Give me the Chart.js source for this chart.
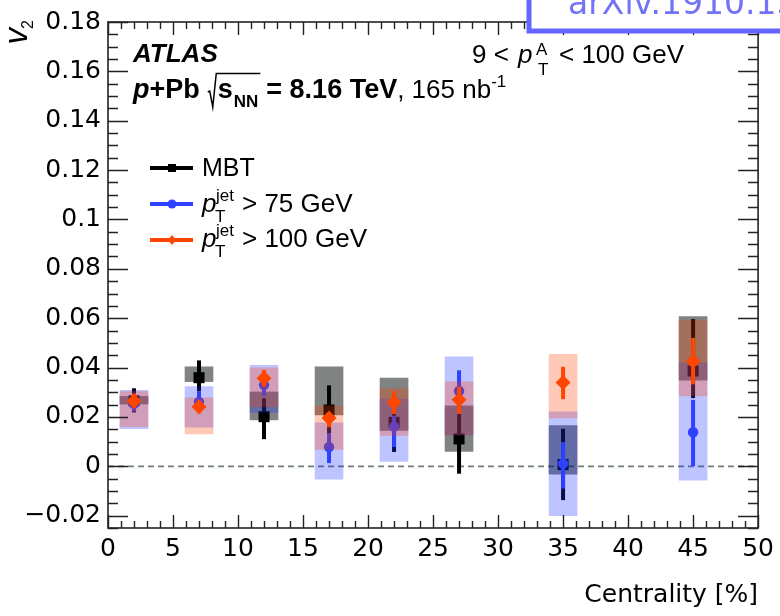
<!DOCTYPE html>
<html><head><meta charset="utf-8">
<script src="https://cdn.jsdelivr.net/npm/chart.js@4.4.0/dist/chart.umd.min.js"></script>
<style>html,body{margin:0;padding:0;background:#fff;}#wrap{width:780px;height:616px;}</style>
</head><body><div id="wrap"><canvas id="c" width="780" height="616"></canvas></div>
<script>
// ---- data ----
const centrality = [2, 7, 12, 17, 22, 27, 35, 45];

const mbtV2      = [0.0265, 0.0359, 0.0201, 0.0228, 0.0178, 0.0111, 0.0007, 0.0386];
const mbtStatLo  = [0.0218, 0.0303, 0.0110, 0.0133, 0.0058, -0.0030, -0.0137, 0.0276];
const mbtStatHi  = [0.0316, 0.0429, 0.0276, 0.0328, 0.0295, 0.0250, 0.0152, 0.0596];
const mbtSystLo  = [0.0252, 0.0343, 0.0188, 0.0208, 0.0145, 0.0060, -0.0032, 0.0349];
const mbtSystHi  = [0.0283, 0.0403, 0.0301, 0.0403, 0.0357, 0.0245, 0.0165, 0.0607];

const jet75V2     = [0.0253, 0.0261, 0.0330, 0.0078, 0.0161, 0.0305, 0.0011, 0.0138];
const jet75StatLo = [0.0222, 0.0220, 0.0285, 0.0013, 0.0078, 0.0225, -0.0090, 0.0001];
const jet75StatHi = [0.0284, 0.0303, 0.0375, 0.0135, 0.0205, 0.0389, 0.0098, 0.0269];
const jet75SystLo = [0.0152, 0.0158, 0.0218, -0.0052, 0.0020, 0.0127, -0.0200, -0.0056];
const jet75SystHi = [0.0308, 0.0323, 0.0409, 0.0176, 0.0272, 0.0443, 0.0221, 0.0419];

const jet100V2     = [0.0265, 0.0241, 0.0357, 0.0196, 0.0258, 0.0270, 0.0339, 0.0426];
const jet100StatLo = [0.0235, 0.0214, 0.0323, 0.0158, 0.0212, 0.0212, 0.0272, 0.0332];
const jet100StatHi = [0.0295, 0.0265, 0.0390, 0.0218, 0.0305, 0.0322, 0.0403, 0.0520];
const jet100SystLo = [0.0161, 0.0131, 0.0241, 0.0068, 0.0125, 0.0127, 0.0196, 0.0285];
const jet100SystHi = [0.0303, 0.0277, 0.0399, 0.0245, 0.0316, 0.0342, 0.0454, 0.0591];

const xTicks = [0, 5, 10, 15, 20, 25, 30, 35, 40, 45, 50];
const xTickLabels = ["0","5","10","15","20","25","30","35","40","45","50"];
const yTicks = [-0.02, 0, 0.02, 0.04, 0.06, 0.08, 0.1, 0.12, 0.14, 0.16, 0.18];
const yTickLabels = ["\u22120.02","0","0.02","0.04","0.06","0.08","0.1","0.12","0.14","0.16","0.18"];

// ---- styles ----
const BLACK = '#000000';
const BLUE = 'rgb(45,65,255)';
const RED = 'rgb(255,70,0)';
const LIB = '"Liberation Sans", Arial, sans-serif';
const DJV = '"DejaVu Sans", sans-serif';

function boxData(lo, hi) { return centrality.map((x, i) => ({x: x, y: [lo[i], hi[i]]})); }
function ptData(v) { return centrality.map((x, i) => ({x: x, y: v[i]})); }

const datasets = [
  {type:'bar', data: boxData(mbtSystLo, mbtSystHi), backgroundColor:'rgba(0,10,5,0.5)', borderWidth:0, barThickness:28, grouped:false, order:6},
  {type:'scatter', data: ptData(mbtV2), pointStyle:'rect', pointRadius:7.8, backgroundColor:BLACK, borderColor:BLACK, borderWidth:0, order:5,
    errLo: mbtStatLo, errHi: mbtStatHi, errColor: BLACK},
  {type:'bar', data: boxData(jet75SystLo, jet75SystHi), backgroundColor:'rgba(30,50,255,0.29)', borderWidth:0, barThickness:28, grouped:false, order:4},
  {type:'scatter', data: ptData(jet75V2), pointStyle:'circle', pointRadius:5.2, backgroundColor:BLUE, borderColor:BLUE, borderWidth:0, order:3,
    errLo: jet75StatLo, errHi: jet75StatHi, errColor: BLUE},
  {type:'bar', data: boxData(jet100SystLo, jet100SystHi), backgroundColor:'rgba(255,60,0,0.28)', borderWidth:0, barThickness:28, grouped:false, order:2},
  {type:'scatter', data: ptData(jet100V2), pointStyle:'rectRot', pointRadius:7.5, backgroundColor:RED, borderColor:RED, borderWidth:0, order:1,
    errLo: jet100StatLo, errHi: jet100StatHi, errColor: RED}
];

function txt(ctx, s, x, y, font, color, align) {
  ctx.font = font; ctx.fillStyle = color || '#000'; ctx.textAlign = align || 'left'; ctx.textBaseline = 'alphabetic';
  ctx.fillText(s, x, y);
  return x + ctx.measureText(s).width;
}

const decor = {
  id: 'decor',
  beforeDatasetsDraw(chart) {
    const {ctx, chartArea: a, scales: {y}} = chart;
    const py = y.getPixelForValue(0);
    ctx.save();
    ctx.strokeStyle = 'rgb(110,125,120)'; ctx.lineWidth = 1.8; ctx.setLineDash([6, 4]);
    ctx.beginPath(); ctx.moveTo(a.left, py); ctx.lineTo(a.right, py); ctx.stroke();
    ctx.restore();
  },
  beforeDatasetDraw(chart, args) {
    const ds = chart.data.datasets[args.index];
    if (!ds.errLo) return;
    const {ctx, chartArea: a, scales: {x, y}} = chart;
    ctx.save();
    ctx.beginPath(); ctx.rect(a.left, a.top, a.right - a.left, a.bottom - a.top); ctx.clip();
    ctx.strokeStyle = ds.errColor; ctx.lineWidth = 4; ctx.lineCap = 'butt';
    ds.errLo.forEach((lo, i) => {
      const px = x.getPixelForValue(centrality[i]);
      ctx.beginPath();
      ctx.moveTo(px, y.getPixelForValue(lo));
      ctx.lineTo(px, y.getPixelForValue(ds.errHi[i]));
      ctx.stroke();
    });
    ctx.restore();
  },
  afterDraw(chart) {
    const {ctx, chartArea: a, scales: {x, y}} = chart;
    ctx.save();
    // frame
    ctx.strokeStyle = '#222'; ctx.lineWidth = 1.6;
    ctx.strokeRect(a.left, a.top, a.right - a.left, a.bottom - a.top);
    // ticks
    ctx.lineWidth = 1.4;
    ctx.beginPath();
    for (let v = -25; v <= 180; v += 5) {
      const val = v / 1000;
      const py = Math.round(y.getPixelForValue(val)) + 0.5;
      const major = (v % 20 === 0);
      const L = major ? 20 : 10;
      ctx.moveTo(a.left, py); ctx.lineTo(a.left + L, py);
      ctx.moveTo(a.right, py); ctx.lineTo(a.right - L, py);
    }
    for (let v = 0; v <= 50; v += 1) {
      const px = Math.round(x.getPixelForValue(v)) + 0.5;
      const major = (v % 5 === 0);
      const L = major ? 13 : 7;
      ctx.moveTo(px, a.bottom); ctx.lineTo(px, a.bottom - L);
      ctx.moveTo(px, a.top); ctx.lineTo(px, a.top + L);
    }
    ctx.stroke();

    // axis titles
    txt(ctx, 'Centrality [%]', a.right, 602, '25px ' + DJV, '#000', 'right');
    ctx.save();
    ctx.translate(27, 20); ctx.rotate(-Math.PI / 2);
    ctx.fillStyle = '#000'; ctx.textAlign = 'left'; ctx.textBaseline = 'alphabetic';
    ctx.font = '16px ' + LIB;
    const w2 = ctx.measureText('2').width;
    ctx.fillText('2', -w2, 6);
    ctx.font = 'italic 33px ' + LIB;
    const wv = ctx.measureText('v').width;
    ctx.fillText('v', -wv - w2 + 1, 0);
    ctx.restore();

    // ATLAS label
    txt(ctx, 'ATLAS', 133, 62, 'bold italic 26px ' + LIB);
    let cx = 133;
    cx = txt(ctx, 'p', cx, 98, 'bold italic 27px ' + LIB);
    cx = txt(ctx, '+Pb', cx, 98, 'bold 27px ' + LIB);
    const sx = cx + 8;
    ctx.font = 'bold 27px ' + LIB;
    const ws = ctx.measureText('s').width;
    ctx.font = 'bold 17px ' + LIB;
    const wnn = ctx.measureText('NN').width;
    const sEnd = sx + 11 + ws + 1 + wnn + 1;
    // sqrt sign
    ctx.strokeStyle = '#000'; ctx.lineWidth = 1.5;
    ctx.beginPath();
    ctx.moveTo(sx, 92); ctx.lineTo(sx + 2, 91); ctx.lineTo(sx + 5, 107); ctx.lineTo(sx + 8.5, 73.5); ctx.lineTo(sEnd, 73.5);
    ctx.stroke();
    let tx = txt(ctx, 's', sx + 10, 98, 'bold 27px ' + LIB);
    txt(ctx, 'NN', tx + 1, 106.5, 'bold 17px ' + LIB);
    cx = txt(ctx, '= 8.16 TeV', sEnd + 6, 98, 'bold 27px ' + LIB);
    cx = txt(ctx, ', 165 nb', cx, 98, '26px ' + LIB);
    txt(ctx, '-1', cx, 87, '17px ' + LIB);

    // kinematic range
    txt(ctx, '9 < ', 472, 63, '26px ' + LIB);
    txt(ctx, 'p', 518, 63, 'italic 26px ' + LIB);
    txt(ctx, 'A', 536, 55, '17px ' + LIB);
    txt(ctx, 'T', 538, 75, '17px ' + LIB);
    txt(ctx, '< 100 GeV', 559, 63, '26px ' + LIB);

    // legend
    const leg = [
      {y: 168, color: BLACK, style: 'rect', base: 176, label: null},
      {y: 204, color: BLUE, style: 'circle', base: 212, label: '> 75 GeV'},
      {y: 240, color: RED, style: 'rectRot', base: 247, label: '> 100 GeV'}
    ];
    leg.forEach((e, i) => {
      ctx.strokeStyle = e.color; ctx.lineWidth = 4;
      ctx.beginPath(); ctx.moveTo(150, e.y); ctx.lineTo(193, e.y); ctx.stroke();
      ctx.fillStyle = e.color;
      ctx.beginPath();
      if (e.style === 'rect') ctx.rect(168, e.y - 4, 8, 8);
      else if (e.style === 'circle') ctx.arc(172, e.y, 4.5, 0, Math.PI * 2);
      else { ctx.moveTo(172, e.y - 5); ctx.lineTo(176, e.y); ctx.lineTo(172, e.y + 5); ctx.lineTo(168, e.y); ctx.closePath(); }
      ctx.fill();
      if (i === 0) {
        txt(ctx, 'MBT', 202, e.base, '25px ' + LIB);
      } else {
        txt(ctx, 'p', 202, e.base, 'italic 26px ' + LIB);
        txt(ctx, 'jet', 216, e.base - 11, '17px ' + LIB);
        txt(ctx, 'T', 215, e.base + 10, '17px ' + LIB);
        txt(ctx, e.label, 242, e.base, '26px ' + LIB);
      }
    });

    // arXiv stamp
    ctx.fillStyle = '#fff'; ctx.fillRect(529, -10, 300, 41);
    ctx.strokeStyle = 'rgb(100,100,255)'; ctx.lineWidth = 5;
    ctx.strokeRect(529, -10, 300, 41);
    txt(ctx, 'arXiv.1910.13978', 568, 14, '33px ' + DJV, 'rgb(115,115,245)');
    ctx.restore();
  }
};

new Chart(document.getElementById('c'), {
  type: 'scatter',
  data: {datasets: datasets},
  options: {
    responsive: false, animation: false, devicePixelRatio: 1,
    layout: {padding: {top: 18, right: 18, left: 0, bottom: 0}},
    plugins: {legend: {display: false}, tooltip: {enabled: false}},
    scales: {
      x: {
        type: 'linear', min: 0, max: 50, offset: false,
        afterBuildTicks: s => { s.ticks = xTicks.map(v => ({value: v})); },
        ticks: {font: {family: DJV, size: 25}, color: '#000', padding: 6, maxRotation: 0, autoSkip: false,
          callback: (v, i) => xTickLabels[i]},
        grid: {display: false, drawTicks: false}, border: {display: false},
        afterFit: s => { s.height = 88; }
      },
      y: {
        type: 'linear', min: -0.025, max: 0.18,
        afterBuildTicks: s => { s.ticks = yTicks.map(v => ({value: v})); },
        ticks: {font: {family: DJV, size: 25}, color: '#000', padding: 7, autoSkip: false,
          callback: (v, i) => yTickLabels[i]},
        grid: {display: false, drawTicks: false}, border: {display: false},
        afterFit: s => { s.width = 108; }
      }
    }
  },
  plugins: [decor]
});
</script></body></html>
